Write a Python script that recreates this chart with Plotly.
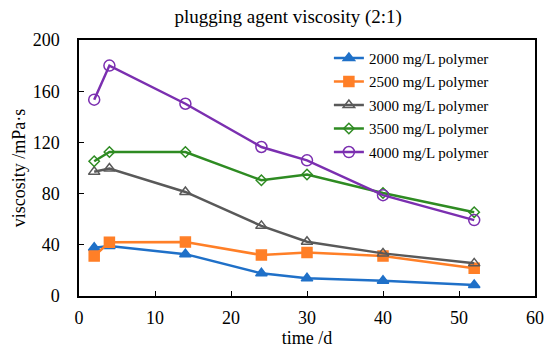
import plotly.graph_objects as go

time_d = [2, 4, 14, 24, 30, 40, 52]
series_names = ["2000 mg/L polymer", "2500 mg/L polymer", "3000 mg/L polymer",
                "3500 mg/L polymer", "4000 mg/L polymer"]
v2000 = [37.7, 39.0, 32.7, 17.7, 13.8, 12.0, 8.6]
v2500 = [31.2, 41.9, 42.1, 32.0, 34.0, 31.2, 21.6]
v3000 = [97.0, 99.6, 81.3, 54.8, 42.4, 33.3, 25.5]
v3500 = [105.3, 112.5, 112.5, 90.4, 94.9, 80.5, 65.5]
v4000 = [153.4, 180.0, 150.2, 116.4, 106.0, 78.8, 59.3]

colors = ["#1F70C8", "#FF7F27", "#595959", "#2E8B22", "#7B2FB0"]
symbols = ["triangle-up", "square", "triangle-up-open", "diamond-open", "circle-open"]
sizes = [10, 10, 10, 8, 11]
values = [v2000, v2500, v3000, v3500, v4000]

FONT = "Liberation Serif"
fig = go.Figure()
for i, (name, vals, c, s, sz) in enumerate(zip(series_names, values, colors, symbols, sizes)):
    fig.add_trace(go.Scatter(
        x=time_d, y=vals, name=name, mode="lines+markers", legendgroup=f"g{i}",
        line=dict(color=c, width=2.5),
        marker=dict(symbol=s, size=sz, color=c, line=dict(color=c, width=1.5)),
    ))

fig.update_layout(
    width=550, height=349,
    margin=dict(l=79, r=15, t=40, b=53),
    paper_bgcolor="white", plot_bgcolor="white",
    font=dict(family=FONT, size=18, color="#000000"),
    title=dict(text="plugging agent viscosity (2:1)", x=0.524, xanchor="center",
               y=1 - 16 / 349, yanchor="middle", font=dict(family=FONT, size=19)),
    showlegend=True,
    legend=dict(x=0.548, y=0.993, xanchor="left", yanchor="top",
                bgcolor="rgba(0,0,0,0)", font=dict(family=FONT, size=15),
                traceorder="grouped", tracegroupgap=1),
    xaxis=dict(range=[0, 60], dtick=10, ticks="inside", ticklen=5, tickcolor="#000",
               showline=True, linecolor="#000", linewidth=1.5, mirror=True,
               showgrid=False, zeroline=False, automargin=False,
               tickfont=dict(family=FONT, size=18),
               title=dict(text="time /d", font=dict(family=FONT, size=18), standoff=2),
               ticklabelstandoff=5),
    yaxis=dict(range=[0, 200], dtick=40, ticks="inside", ticklen=5, tickcolor="#000",
               showline=True, linecolor="#000", linewidth=1.5, mirror=True,
               showgrid=False, zeroline=False, automargin=False,
               tickfont=dict(family=FONT, size=18),
               title=dict(text="viscosity /mPa·s", font=dict(family=FONT, size=18), standoff=2),
               ticklabelstandoff=14),
)

fig.write_html("out.html", config={"displayModeBar": False},
               post_script="document.body.style.margin='0';")
